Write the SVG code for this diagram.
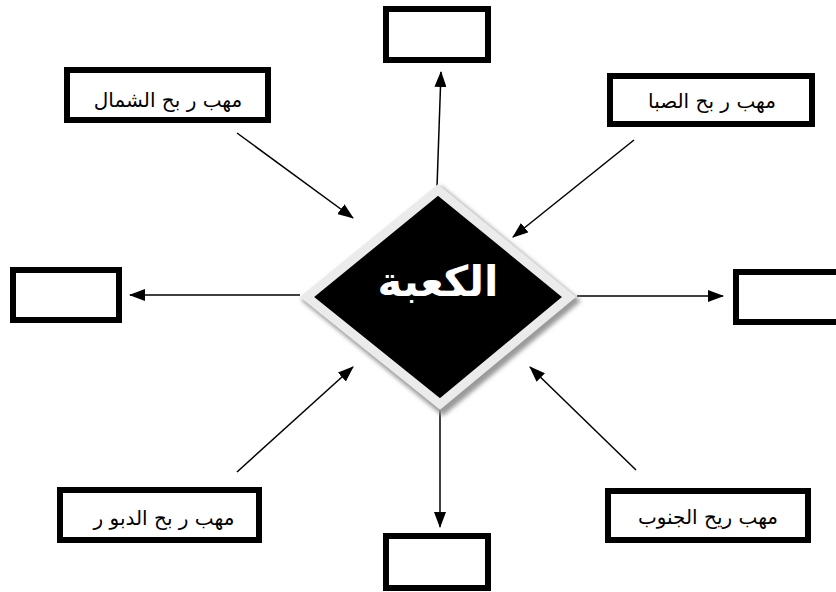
<svg xmlns="http://www.w3.org/2000/svg" width="836" height="592" viewBox="0 0 836 592">
<style>
.box{fill:#fff;stroke:#000;stroke-width:6}
.lbl{font-family:"DejaVu Sans","Liberation Sans",sans-serif;font-size:20px;fill:#000;text-anchor:middle}
.conn{stroke:#000;stroke-width:1.5;fill:none;marker-end:url(#ah)}
.title{font-family:"DejaVu Sans","Liberation Sans",sans-serif;font-size:42px;font-weight:bold;fill:#fff;text-anchor:middle}
</style>
<defs>
<marker id="ah" markerUnits="userSpaceOnUse" markerWidth="16" markerHeight="12" refX="15" refY="6" orient="auto">
<path d="M0,0 L16,6 L0,12 Z" fill="#000"/>
</marker>
<filter id="blur" x="-10%" y="-10%" width="120%" height="120%"><feGaussianBlur stdDeviation="2"/></filter>
</defs>
<rect width="836" height="592" fill="#fff"/>
<g id="connectors">
<line class="conn" x1="437" y1="187" x2="441" y2="72"/>
<line class="conn" x1="440" y1="406" x2="440" y2="527"/>
<line class="conn" x1="300" y1="295" x2="130" y2="295"/>
<line class="conn" x1="577" y1="296" x2="723" y2="296"/>
<line class="conn" x1="237" y1="133" x2="353" y2="218"/>
<line class="conn" x1="634" y1="140" x2="513" y2="237"/>
<line class="conn" x1="237" y1="472" x2="353" y2="367"/>
<line class="conn" x1="636" y1="470" x2="530" y2="367"/>
</g>
<g id="kaaba">
<polygon points="441,186 581,301 443,416 301,300" fill="#9a9a9a" filter="url(#blur)"/>
<polygon points="438,190 569,297 440,404 307,297" fill="#000" stroke="#ebebeb" stroke-width="9" stroke-linejoin="miter"/>
<text class="title" x="438" y="296">الكعبة</text>
</g>
<g id="box-top"><rect class="box" x="386" y="9" width="102" height="51"/></g>
<g id="box-bottom"><rect class="box" x="386" y="536" width="102" height="52"/></g>
<g id="box-left"><rect class="box" x="13" y="270" width="106" height="50"/></g>
<g id="box-right"><rect class="box" x="736" y="272" width="106" height="50"/></g>
<g id="box-north"><rect class="box" x="67" y="70" width="201" height="50"/><text class="lbl" x="168" y="107">مهب ر بح الشمال</text></g>
<g id="box-saba"><rect class="box" x="610" y="76" width="202" height="48"/><text class="lbl" x="712" y="108">مهب ر بح الصبا</text></g>
<g id="box-dabur"><rect class="box" x="60" y="490" width="199" height="50"/><text class="lbl" x="164" y="525">مهب ر بح الدبو ر</text></g>
<g id="box-south"><rect class="box" x="608" y="491" width="200" height="49"/><text class="lbl" x="708" y="524">مهب ريح الجنوب</text></g>
</svg>
